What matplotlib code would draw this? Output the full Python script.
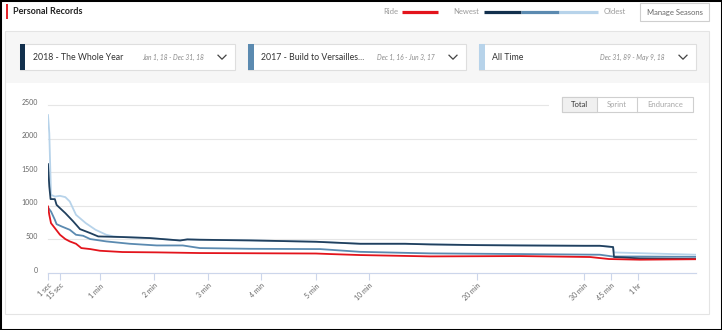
import numpy as np
import matplotlib
matplotlib.use("Agg")
import matplotlib.pyplot as plt
from matplotlib.patches import Rectangle
from matplotlib.lines import Line2D
from matplotlib.transforms import ScaledTranslation

plt.rcParams['font.family'] = ['Lato', 'DejaVu Sans']

W, H = 722, 330

# ---------------- data ----------------
tick_secs = [1, 15, 60, 120, 180, 240, 300, 600, 1200, 1800, 2700, 3600]
tick_labels = ["1 sec", "15 sec", "1 min", "2 min", "3 min", "4 min", "5 min",
               "10 min", "20 min", "30 min", "45 min", "1 hr"]
x_max_sec = 5400
y_ticks = [0, 500, 1000, 1500, 2000, 2500]

# the chart's own non-uniform duration axis (anchor seconds -> relative spacing)
scale_secs = [1, 15, 60, 120, 180, 240, 300, 600, 1200, 1800, 2700, 3600, 5400]
scale_rel = [0, 12, 52, 106, 160, 213, 268, 321, 429, 536, 563, 590, 648]

ride_t = [1, 2.5, 4.5, 9, 15, 21, 26, 33, 39, 49, 60, 85, 123, 171, 300, 380,
          550, 940, 1440, 2000, 2630, 3660, 5400]
ride_w = [990, 866, 742, 668, 569, 505, 470, 435, 371, 356, 331, 312, 307, 297,
          290, 282, 267, 247, 252, 238, 208, 198, 205]

newest_t = [1, 2.5, 4, 9, 11, 15, 21, 30, 37.5, 49, 58, 85, 115, 149, 157, 171,
            228, 300, 550, 800, 940, 1200, 1440, 1800, 2330, 2770, 2800, 3660, 5400]
newest_w = [1620, 1290, 1100, 1099, 1014, 965, 891, 766, 653, 594, 544, 535, 520,
            484, 500, 495, 485, 465, 435, 435, 425, 415, 410, 405, 405, 386, 238,
            217, 208]

middle_t = [1, 4.5, 9, 11, 17, 26, 33, 41, 49, 67, 93, 123, 152, 171, 228, 300,
            323, 550, 800, 940, 1440, 2330, 2770, 3660, 5400]
middle_w = [975, 915, 792, 727, 692, 643, 569, 554, 505, 470, 435, 410, 410, 371,
            360, 356, 356, 315, 300, 292, 282, 272, 245, 245, 240]

oldest_t = [1, 2.5, 4.5, 9, 15, 21, 26, 33, 44, 55, 67, 75, 85, 115, 149, 157,
            171, 228, 300, 550, 800, 1200, 1800, 2330, 2770, 2800, 3660, 5400]
oldest_w = [2350, 2080, 1163, 1138, 1148, 1129, 1064, 866, 742, 643, 569, 545,
            535, 520, 484, 500, 495, 485, 465, 435, 435, 415, 405, 405, 386, 306,
            295, 272]

seasons = ["2018 - The Whole Year", "2017 - Build to Versailles...", "All Time"]
season_dates = ["Jan 1, 18 - Dec 31, 18", "Dec 1, 16 - Jun 3, 17", "Dec 31, 89 - May 9, 18"]
buttons = ["Total", "Sprint", "Endurance"]

C_RIDE = '#e3141c'
C_NEW = '#21405e'
C_MID = '#5b8ab0'
C_OLD = '#b7d3ea'

# ---------------- figure ----------------
fig = plt.figure(figsize=(W / 100, H / 100), dpi=100)
fig.patch.set_facecolor('white')


def fx(x):
    return x / W


def fy(y):
    return 1 - y / H


def rect(x0, y0, x1, y1, **kw):
    r = Rectangle((fx(x0), fy(y1)), (x1 - x0) / W, (y1 - y0) / H,
                  transform=fig.transFigure, **kw)
    fig.add_artist(r)
    return r


def line(xs, ys, **kw):
    l = Line2D([fx(v) for v in xs], [fy(v) for v in ys], transform=fig.transFigure, **kw)
    fig.add_artist(l)
    return l


def text(x, y, s, **kw):
    return fig.text(fx(x), fy(y), s, **kw)


# card + gray selector panel
rect(5, 31, 709, 83, facecolor='#f6f6f6', edgecolor='none', zorder=0.5)
rect(5, 31, 709, 314, facecolor='none', edgecolor='#e4e4e4', lw=0.8, zorder=0.6)

# header
rect(6, 4, 7.5, 19, facecolor='#e4252b', edgecolor='none')
text(13, 11.5, "Personal Records", fontsize=6.5, fontweight='bold', color='#222222',
     va='center', ha='left')

# legend
text(398, 11.5, "Ride", fontsize=5.5, color='#9a9a9a', va='center', ha='right')
line([402, 438], [11.5, 11.5], color=C_RIDE, lw=2.3, solid_capstyle='butt')
text(479, 11.5, "Newest", fontsize=5.5, color='#9a9a9a', va='center', ha='right')
line([484, 521], [11.5, 11.5], color='#12304d', lw=2.3, solid_capstyle='butt')
line([521, 559], [11.5, 11.5], color=C_MID, lw=2.3, solid_capstyle='butt')
line([559, 598], [11.5, 11.5], color=C_OLD, lw=2.3, solid_capstyle='butt')
text(604, 11.5, "Oldest", fontsize=5.5, color='#9a9a9a', va='center', ha='left')
rect(640, 3, 709, 21, facecolor='white', edgecolor='#cfcfcf', lw=0.8)
text(674.5, 12, "Manage Seasons", fontsize=5.5, color='#666666', va='center', ha='center')

# season selectors
boxes = [(20, 235), (248, 466), (479, 696)]
strip_cols = ['#12304d', C_MID, C_OLD]
for (x0, x1), name, dates, sc in zip(boxes, seasons, season_dates, strip_cols):
    rect(x0, 44, x1, 69.5, facecolor='white', edgecolor='#dedede', lw=0.8)
    rect(x0, 44, x0 + 5.5, 69.5, facecolor=sc, edgecolor='none')
    text(x0 + 13, 57.2, name, fontsize=6.3, color='#333333', va='center', ha='left')
    text(x1 - 31, 57.2, dates, fontsize=4.8, color='#8a8a8a', style='italic', va='center', ha='right')
    cx = x1 - 13
    line([cx - 4, cx, cx + 4], [55.2, 59.2, 55.2], color='#444444', lw=0.9)

# ---------------- chart axes ----------------
ax = fig.add_axes([fx(48), fy(273), 648 / W, 168 / H])


def fwd(t):
    return np.interp(t, scale_secs, scale_rel)


def inv(p):
    return np.interp(p, scale_rel, scale_secs)


ax.set_xscale('function', functions=(fwd, inv))
ax.set_xlim(1, x_max_sec)
ax.set_ylim(0, 2500)

ax.plot(oldest_t, oldest_w, color=C_OLD, lw=1.3, zorder=2)
ax.plot(middle_t, middle_w, color=C_MID, lw=1.3, zorder=3)
ax.plot(newest_t, newest_w, color=C_NEW, lw=1.3, zorder=4)
ax.plot(ride_t, ride_w, color=C_RIDE, lw=1.3, zorder=5)

ax.set_xticks(tick_secs)
ax.set_xticklabels(tick_labels, rotation=45, ha='right', va='top', rotation_mode='anchor')
ax.xaxis.set_minor_locator(matplotlib.ticker.NullLocator())
ax.set_yticks(y_ticks)
ax.set_yticklabels([str(v) for v in y_ticks])

ax.tick_params(axis='x', length=5, width=0.8, color='#ccd6eb', labelsize=5, labelcolor='#666666', pad=1.5)
ax.tick_params(axis='y', length=0, labelsize=5, labelcolor='#666666', pad=7)
for lbl in ax.get_yticklabels():
    lbl.set_transform(lbl.get_transform() + ScaledTranslation(0, 2.5 / 72, fig.dpi_scale_trans))

for s in ['top', 'right', 'left']:
    ax.spines[s].set_visible(False)
ax.spines['bottom'].set_color('#ccd6eb')
ax.spines['bottom'].set_linewidth(0.8)
ax.grid(axis='y', color='#e6e6e6', lw=0.8)
ax.set_axisbelow(True)
for gl in ax.yaxis.get_gridlines():
    gl.set_clip_on(False)

# white cover behind the button group (top gridline stops there) + buttons
rect(549, 99, 700, 111, facecolor='white', edgecolor='none', zorder=1)
rect(562, 97, 693, 112, facecolor='white', edgecolor='#cfcfcf', lw=0.8, zorder=2)
rect(562, 97, 597, 112, facecolor='#f0f0f0', edgecolor='#cfcfcf', lw=0.8, zorder=2)
line([637, 637], [97, 112], color='#cfcfcf', lw=0.8, zorder=3)
btn_cx = [579.5, 617, 665]
btn_cols = ['#333333', '#a8a8a8', '#a8a8a8']
for b, cxb, cb in zip(buttons, btn_cx, btn_cols):
    text(cxb, 104.8, b, fontsize=5.5, color=cb, va='center', ha='center', zorder=4)

# outer black frame of the screenshot
rect(0, 0, W, H, facecolor='none', edgecolor='black', lw=2.2, zorder=10)

fig.savefig('out.png', dpi=100, facecolor='white')
